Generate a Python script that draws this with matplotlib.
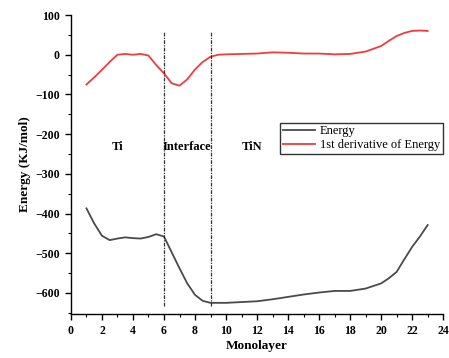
import matplotlib.pyplot as plt
from matplotlib.ticker import MultipleLocator

plt.rcParams['font.family'] = ['Liberation Serif', 'DejaVu Serif']

# monolayer positions
layers = [1, 1.5, 2, 2.5, 3, 3.5, 4, 4.5, 5, 5.5, 6, 6.5, 7, 7.5, 8, 8.5, 9, 9.5,
          10, 11, 12, 13, 14, 14.5, 15, 16, 17, 18, 19, 20, 20.5, 21, 21.5, 22, 22.5, 23]

energy = [-387, -425, -456, -467, -463, -460, -462, -463, -459, -452, -458, -498, -538,
          -576, -605, -620, -625, -625, -625, -623, -621, -616, -610, -607, -604, -599,
          -595, -595, -589, -576, -563, -547, -515, -484, -458, -429]

deriv = [-75, -57, -38, -18, 0, 2, 0, 2, -2, -26, -47, -72, -78, -62, -37, -18, -5, 0,
         1, 2, 3, 6, 5, 4, 3, 3, 1, 2, 8, 22, 35, 47, 55, 60, 61, 60]

boundaries = [6, 9]
regions = ["Ti", "Interface", "TiN"]
region_x = [3.0, 7.5, 11.7]

fig = plt.figure(figsize=(4.49, 3.58), dpi=100)
ax = fig.add_axes([0.158, 0.123, 0.829, 0.835])

ax.plot(layers, energy, color="#4a4a4a", lw=1.3, label="Energy", solid_joinstyle="round")
ax.plot(layers, deriv, color="#f03c3c", lw=1.3, label="1st derivative of Energy",
        solid_joinstyle="round")

for b in boundaries:
    ax.plot([b, b], [-632, 58], color="#333333", lw=0.9, linestyle=(0, (3, 1, 1, 1)))

for name, xr in zip(regions, region_x):
    ax.text(xr, -232, name, ha="center", va="center", fontsize=9, fontweight="bold")

ax.set_xlim(0, 24)
ax.set_ylim(-653, 100)
ax.xaxis.set_major_locator(MultipleLocator(2))
ax.xaxis.set_minor_locator(MultipleLocator(1))
ax.yaxis.set_major_locator(MultipleLocator(100))
ax.yaxis.set_minor_locator(MultipleLocator(50))
ax.tick_params(which="major", direction="out", length=4.5, width=1, labelsize=8.5)
ax.tick_params(which="minor", direction="out", length=2.5, width=0.8)
for lbl in ax.get_xticklabels() + ax.get_yticklabels():
    lbl.set_fontweight("bold")
ax.spines["top"].set_visible(False)
ax.spines["right"].set_visible(False)
ax.spines["left"].set_linewidth(1)
ax.spines["bottom"].set_linewidth(1)

ax.set_xlabel("Monolayer", fontsize=9.5, fontweight="bold", labelpad=2)
ax.set_ylabel("Energy (KJ/mol)", fontsize=9.5, fontweight="bold", labelpad=3)

leg = ax.legend(loc="upper right", bbox_to_anchor=(0.999, 0.64), fontsize=9,
                frameon=True, fancybox=False, borderpad=0.2, handlelength=2.6,
                labelspacing=0.15, handletextpad=0.4, borderaxespad=0)
leg.get_frame().set_edgecolor("black")
leg.get_frame().set_linewidth(1)

fig.savefig("out.png", dpi=100)
